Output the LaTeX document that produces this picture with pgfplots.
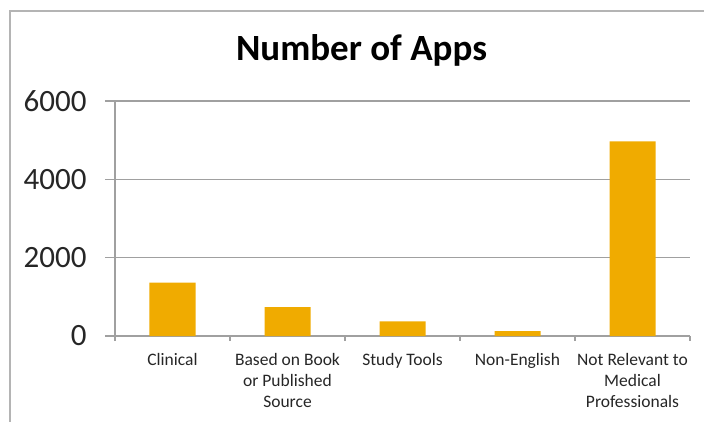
\documentclass[border=0pt]{standalone}
\usepackage{pgfplots}
\pgfplotsset{compat=1.18}
\usepackage{fontspec}
\setmainfont{Carlito}
\definecolor{barc}{RGB}{240,171,0}
\definecolor{gridc}{RGB}{160,160,160}
\definecolor{framec}{RGB}{180,180,180}
\begin{document}
\begin{tikzpicture}[x=1pt,y=1pt]
\useasboundingbox (0,0) rectangle (704,-421);
\draw[framec, line width=2pt] (9.5,-422) -- (9.5,-10.5) -- (705,-10.5);
\node[anchor=base, font=\fontsize{37}{37}\selectfont\bfseries] at (361.5,-60.7) {Number of Apps};
\begin{axis}[
  at={(115pt,-336pt)}, anchor=south west,
  scale only axis, width=575pt, height=235pt,
  xmin=-0.5, xmax=4.5, ymin=0, ymax=6000,
  ytick={0,2000,4000,6000},
  xtick={0,1,2,3,4},
  xticklabels={Clinical, {Based on Book\\or Published\\Source}, Study Tools, Non-English, {Not Relevant to\\Medical\\Professionals}},
  minor xtick={-0.5,0.5,1.5,2.5,3.5,4.5},
  every major x tick/.style={draw=none},
  tick align=outside,
  major tick length=10pt, minor tick length=5pt,
  tick style={gridc, line width=1.2pt},
  axis x line*=bottom, axis y line*=left,
  axis line style={gridc, line width=1.2pt, -},
  ymajorgrids, grid style={gridc, line width=1.2pt},
  /pgf/number format/assume math mode=true,
  /pgf/number format/1000 sep={},
  yticklabel style={font=\fontsize{31}{31}\selectfont, anchor=east, xshift=-15pt, text=black!85},
  xticklabel style={font=\fontsize{17.5}{21}\selectfont, align=center, anchor=north, yshift=-4pt, text=black!85},
  ybar, bar width=46pt,
  clip=false,
]
\addplot[fill=barc, draw=none] coordinates {(0,1360) (1,735) (2,375) (3,125) (4,4970)};
\end{axis}
\end{tikzpicture}
\end{document}
